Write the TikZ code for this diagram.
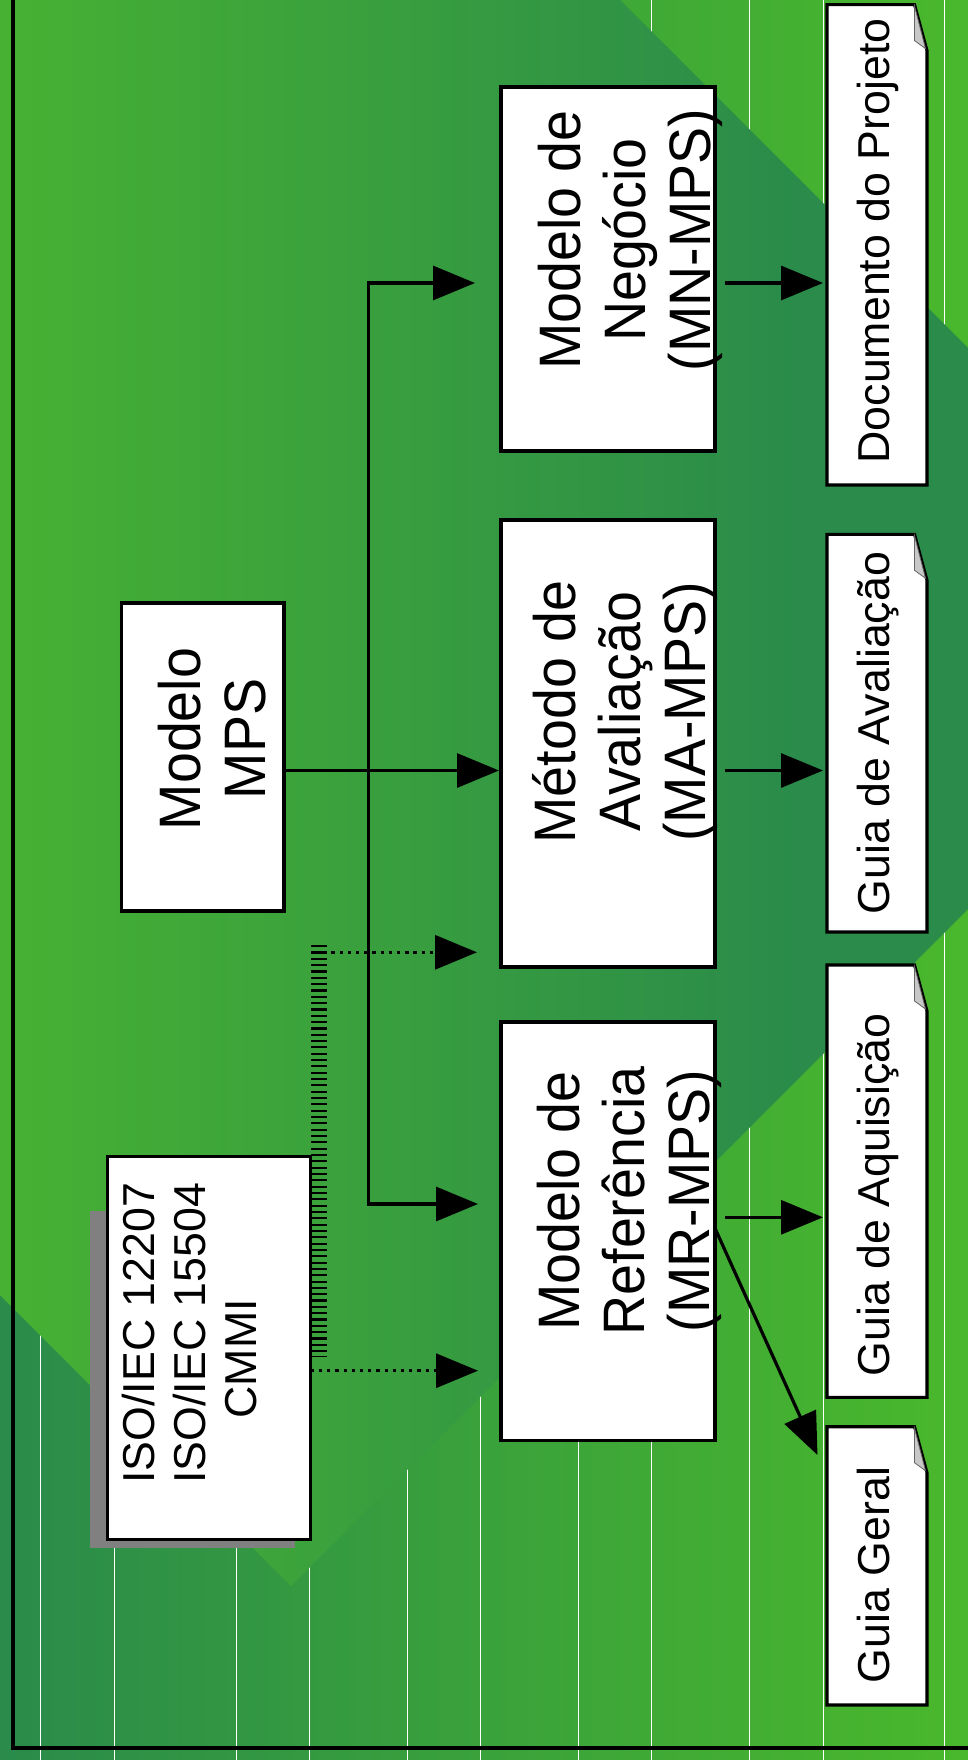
\documentclass[tikz,border=0pt]{standalone}
\usepackage{fontspec}
\setmainfont{Liberation Sans}
\newfontfamily\bigfont[FakeStretch=0.95]{Liberation Sans}
\usetikzlibrary{arrows.meta}
\definecolor{gLight}{HTML}{4AB82C}
\definecolor{gDark}{HTML}{2A8B4A}
\definecolor{gLeft}{HTML}{46B133}
\definecolor{shadowgray}{HTML}{808080}
\definecolor{foldgray}{HTML}{C8C8C8}
\tikzset{
  box/.style={rectangle, draw=black, fill=white, line width=3.3pt, inner sep=0pt, outer sep=0pt},
  docarea/.style={rectangle, inner sep=0pt, outer sep=0pt},
  docline/.style={draw=black, fill=white, line width=3.1pt, line join=miter},
  foldtri/.style={fill=foldgray, draw=black!60, line width=0.8pt},
  bigtext/.style={rotate=90, align=center, inner sep=0pt, font=\bigfont\fontsize{58.5pt}{65pt}\selectfont},
  isotext/.style={rotate=90, align=center, inner sep=0pt, font=\fontsize{44.7pt}{51pt}\selectfont},
  doctext/.style={rotate=90, inner sep=0pt, anchor=base, font=\fontsize{44.7pt}{51pt}\selectfont},
  conn/.style={draw=black, line width=3.2pt},
  arr/.style={conn, -{Triangle[length=42pt,width=34pt]}},
  dotarr/.style={arr, dash pattern=on 3.3pt off 4.9pt},
  hatch/.style={draw=black, line width=16pt, dash pattern=on 2.2pt off 4.13pt},
  gridline/.style={draw=white, line width=1pt},
  framepath/.style={draw=black, line width=3.2pt},
}
\begin{document}
\begin{tikzpicture}[x=1pt,y=-1pt]
\useasboundingbox (0,0) rectangle (968,1760);
\clip (0,0) rectangle (968,1760);
% background gradient with white vertical lines
\shade[left color=gDark, right color=gLight] (0,0) rectangle (968,1760);
\foreach \gx in {40,114,236,309,407,480,578,651,749,823,944}
  \draw[gridline] (\gx,0) -- (\gx,1760);
% large diamond
\begin{scope}
  \clip (-1000,295) -- (-40,-660) -- (1248.5,628.5) -- (291,1586) -- cycle;
  \shade[left color=gLeft, right color=gDark] (0,0) rectangle (800,1760);
  \fill[gDark] (799,0) rectangle (968,1760);
\end{scope}
% frame
\draw[framepath] (13,-5) -- (13,1748) -- (975,1748);

% shadow of ISO box
\fill[shadowgray] (90,1211) rectangle (295,1547.5);

% boxes
\node[box, minimum width=214pt, minimum height=364pt] (mn) at (608,269) {};
\node[box, minimum width=214pt, minimum height=447pt] (ma) at (608,743.5) {};
\node[box, minimum width=214pt, minimum height=418.7pt] (mr) at (608,1231.3) {};
\node[box, minimum width=162.4pt, minimum height=308pt] (mps) at (202.8,757) {};
\node[box, minimum width=203.2pt, minimum height=383pt] (iso) at (209.1,1348) {};

% documents
\node[docarea, minimum width=100pt, minimum height=480.4pt] (dp) at (877,244.8) {};
\node[docarea, minimum width=100pt, minimum height=397.7pt] (ga) at (877,733.15) {};
\node[docarea, minimum width=100pt, minimum height=432.3pt] (gq) at (877,1181.15) {};
\node[docarea, minimum width=100pt, minimum height=278.3pt] (gg) at (877,1565.85) {};
\foreach \d in {dp,ga,gq,gg}{
  \draw[docline] (\d.south west) -- (\d.north west) -- ([xshift=-12.5pt]\d.north east)
     -- ([yshift=-46pt]\d.north east) -- (\d.south east) -- cycle;
  \filldraw[foldtri] ([xshift=-12.5pt,yshift=-1.5pt]\d.north east) -- ([xshift=-12.5pt,yshift=-36pt]\d.north east)
     -- ([xshift=-1.5pt,yshift=-44pt]\d.north east) -- cycle;
}

% connectors
\coordinate (yMN) at (0,283);
\coordinate (yMA) at (0,770.5);
\coordinate (yMRd) at (0,1217.3);
\coordinate (yDg) at (0,1228.3);
\coordinate (yDot2) at (0,1370.7);
\coordinate (tTop) at (368.5,283);
\coordinate (tBot) at (368.5,1204);
\coordinate (tBotx) at (368.5,1205.6);
\coordinate (hTop) at (318.5,945);
\coordinate (hBot) at (318.5,1357);
\coordinate (dStart) at (315,952.3);
\coordinate (ggTip) at (817.5,1455);

\draw[arr, shorten >=26pt] (tBotx) -- (tTop) -- (mn.west |- tTop);
\draw[arr, shorten >=23pt] (tBot) -- (mr.west |- tBot);
\draw[arr, shorten >=2pt] (mps.east |- yMA) -- (ma.west |- yMA);

\draw[hatch] (hTop) -- (hBot);
\draw[dotarr, shorten >=24pt] (dStart) -- (ma.west |- dStart);
\draw[dotarr, shorten >=23pt] (iso.east |- yDot2) -- (mr.west |- yDot2);

\draw[arr, shorten <=10pt, shorten >=4pt] (mn.east |- yMN) -- (dp.west |- yMN);
\draw[arr, shorten <=10pt, shorten >=4pt] (ma.east |- yMA) -- (ga.west |- yMA);
\draw[arr, shorten <=10pt, shorten >=4pt] (mr.east |- yMRd) -- (gq.west |- yMRd);
\draw[arr] (mr.east |- yDg) -- (ggTip);

% texts
\node[bigtext] (tmn) at (630,240) {Modelo de\\Negócio\\(MN-MPS)};
\node[bigtext] (tma) at (625,712) {Método de\\Avaliação\\(MA-MPS)};
\node[bigtext] (tmr) at (629,1201) {Modelo de\\Referência\\(MR-MPS)};
\node[bigtext] (tmps) at (212,739) {Modelo\\MPS};
\node[isotext] (tiso) at (190,1333.3) {ISO/IEC 12207\\ISO/IEC 15504\\CMMI\kern51pt};

\node[doctext] (tdp) at (889,241) {Documento do Projeto};
\node[doctext] (tga) at (889,733) {Guia de Avaliação};
\node[doctext] (tgq) at (889,1195) {Guia de Aquisição};
\node[doctext] (tgg) at (889,1575) {Guia Geral};
\end{tikzpicture}
\end{document}
